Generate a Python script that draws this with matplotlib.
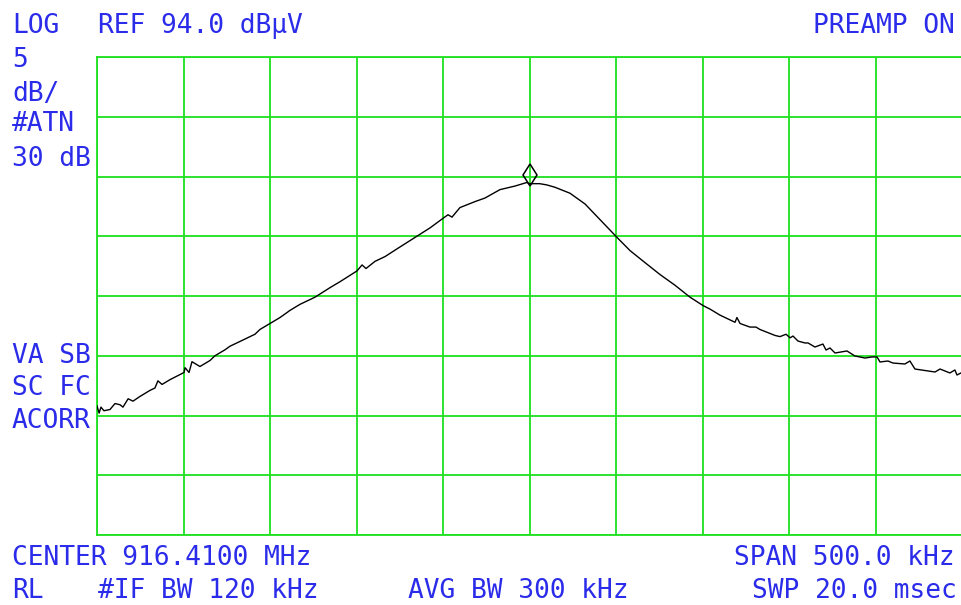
#!/usr/bin/env python3
"""Spectrum analyzer screen: single trace around 916.41 MHz, 5 dB/div, 500 kHz span."""
import numpy as np
import matplotlib
matplotlib.use("Agg")
import matplotlib.pyplot as plt
import matplotlib.transforms as mtransforms

# display settings
REF_DB = 94.0      # top of screen, dBuV
DB_DIV = 5.0
N_YDIV = 8
SPAN_KHZ = 500.0
N_XDIV = 10

# trace: offset from center (kHz) and level (dBuV)
freq_khz = [-250.0, -248.8, -247.7, -246.0, -242.5, -239.6, -236.7, -235.0, -232.0, -229.2,
            -225.1, -219.4, -216.5, -214.8, -212.4, -207.8, -199.7, -199.1, -196.8, -195.1,
            -190.5, -184.7, -181.8, -176.0, -173.1, -167.3, -158.7, -155.8, -150.0, -144.2,
            -138.4, -132.7, -124.0, -115.3, -109.5, -99.7, -96.8, -94.5, -89.3, -83.5,
            -74.9, -66.2, -57.5, -50.0, -47.1, -44.8, -40.2, -31.5, -25.7, -17.1,
            -8.4, -1.5, 0.0, 5.8, 9.9, 14.7, 23.4, 32.1, 40.7, 50.6,
            58.1, 66.7, 75.4, 84.1, 92.8, 100.3, 104.4, 110.1, 118.8, 119.9,
            121.7, 127.4, 130.9, 133.2, 141.9, 144.8, 148.3, 150.6, 152.3, 155.2,
            159.2, 161.0, 165.0, 169.6, 171.4, 173.7, 176.6, 183.5, 188.1, 193.9,
            198.0, 200.9, 202.6, 207.2, 210.1, 217.0, 219.9, 222.8, 234.4, 237.3,
            243.0, 245.9, 247.1, 249.4]
level_db = [64.8, 64.2, 64.7, 64.4, 64.5, 65.0, 64.9, 64.7, 65.4, 65.2,
            65.6, 66.1, 66.3, 66.9, 66.6, 67.0, 67.6, 68.0, 67.6, 68.5,
            68.1, 68.6, 69.0, 69.5, 69.8, 70.2, 70.8, 71.2, 71.7, 72.2,
            72.8, 73.3, 73.9, 74.7, 75.2, 76.1, 76.6, 76.3, 76.9, 77.3,
            78.1, 78.9, 79.7, 80.5, 80.8, 80.6, 81.4, 81.9, 82.2, 82.9,
            83.2, 83.5, 83.4, 83.4, 83.3, 83.1, 82.6, 81.7, 80.4, 78.9,
            77.8, 76.8, 75.8, 74.9, 73.9, 73.2, 72.9, 72.4, 71.8, 72.2,
            71.7, 71.4, 71.4, 71.2, 70.7, 70.6, 70.8, 70.5, 70.65, 70.23,
            70.07, 70.07, 69.73, 69.98, 69.48, 69.65, 69.23, 69.40, 68.98, 68.81,
            68.90, 68.90, 68.48, 68.56, 68.39, 68.31, 68.56, 67.89, 67.64, 67.89,
            67.56, 67.81, 67.39, 67.56]

marker_khz = 0.0

BLUE = "#2b2bea"
GREEN = "#1ee01e"
W, H = 961, 605

fig = plt.figure(figsize=(W / 100, H / 100), dpi=100)
fig.patch.set_facecolor("white")

# plot box 97..962 x 57..535 px
ax = fig.add_axes([97 / W, 1 - 535 / H, 865 / W, 478 / H])
ax.set_xlim(-SPAN_KHZ / 2, SPAN_KHZ / 2)
ax.set_ylim(REF_DB - N_YDIV * DB_DIV, REF_DB)
ax.set_xticks(np.linspace(-SPAN_KHZ / 2, SPAN_KHZ / 2, N_XDIV + 1))
ax.set_yticks(np.linspace(REF_DB - N_YDIV * DB_DIV, REF_DB, N_YDIV + 1))
ax.tick_params(length=0, labelbottom=False, labelleft=False)
ax.grid(True, color=GREEN, lw=1.3)
for s in ax.spines.values():
    s.set_color(GREEN)
    s.set_linewidth(1.3)
ax.set_axisbelow(True)

ax.plot(freq_khz, level_db, color="black", lw=1.0, zorder=3)

# marker diamond sits just above the trace at the center frequency
mi = freq_khz.index(marker_khz)
off = mtransforms.ScaledTranslation(0, 6.5 / 72, fig.dpi_scale_trans)
ax.plot([marker_khz], [level_db[mi]], marker="d", ms=11.5, mfc="none", mec="black",
        mew=1.1, transform=ax.transData + off, zorder=4, clip_on=False)

# annotation text, positioned by baseline in pixels
FS = 18.9
FAM = "DejaVu Sans Mono"
def label(x, base, s, ha="left"):
    fig.text(x / W, 1 - base / H, s, ha=ha, va="baseline", color=BLUE,
             fontsize=FS, family=FAM)

label(12, 33, "LOG")
label(98, 33, "REF 94.0 dB\u03bcV")
label(955, 33, "PREAMP ON", ha="right")
label(12, 67, "5")
label(12, 101, "dB/")
label(12, 131, "#ATN")
label(12, 166, "30 dB")
label(12, 363, "VA SB")
label(12, 395, "SC FC")
label(12, 428, "ACORR")
label(12, 565, "CENTER 916.4100 MHz")
label(955, 565, "SPAN 500.0 kHz", ha="right")
label(12, 598, "RL")
label(98, 598, "#IF BW 120 kHz")
label(408, 598, "AVG BW 300 kHz")
label(957, 598, "SWP 20.0 msec", ha="right")

fig.savefig("out.png", dpi=100)
